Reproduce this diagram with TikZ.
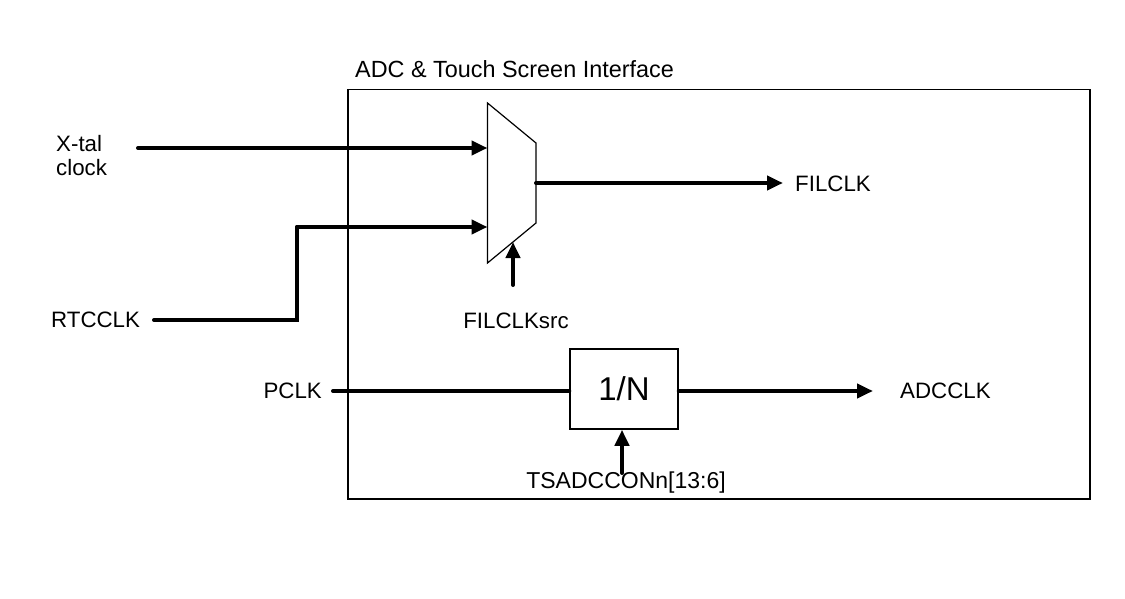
\documentclass[tikz,border=0pt]{standalone}
\usepackage{fontspec}
\setmainfont{Liberation Sans}
\usetikzlibrary{arrows.meta}
\begin{document}
\begin{tikzpicture}[x=1pt,y=-1pt,
  wire/.style={line width=4pt,line cap=round},
  arr/.style={wire,-{Triangle[length=16pt,width=14pt]}},
  thin/.style={line width=1.5pt},
  lbl/.style={inner sep=0pt,font=\fontsize{22.3}{26}\selectfont},
  big/.style={inner sep=0pt,font=\fontsize{33}{38}\selectfont}]
\useasboundingbox (0,0) rectangle (1125,599);
\fill[white] (0,0) rectangle (1125,599);
% outer box
\node[thin,draw,minimum width=742pt,minimum height=409pt,inner sep=0pt,anchor=north west] (box) at (347,89) {};
\node[lbl,anchor=west,font=\fontsize{23.4}{27}\selectfont] (title) at (355,69) {ADC \& Touch Screen Interface};
% mux
\coordinate (m1) at (487.5,103);
\coordinate (m2) at (536,143);
\coordinate (m3) at (536,223);
\coordinate (m4) at (487.5,263);
\draw[thin,line width=1.2pt,fill=white] (m1) -- (m2) -- (m3) -- (m4) -- cycle;
\coordinate (in1) at (487.5,148);
\coordinate (in2) at (487.5,227);
\coordinate (out) at (536,183);
\coordinate (sel) at (513,242);
% labels
\node[lbl,anchor=west,align=left] (xtal) at (56,156) {X-tal\\[-2pt]clock};
\node[lbl,anchor=west] (rtc) at (51,320) {RTCCLK};
\node[lbl,anchor=east] (pclk) at (322,391) {PCLK};
\node[lbl,anchor=west] (filclk) at (795,184) {FILCLK};
\node[lbl,anchor=west] (adcclk) at (900,391) {ADCCLK};
\node[lbl] (filsrc) at (516,321) {FILCLKsrc};
\node[lbl,font=\fontsize{23}{27}\selectfont] (tsadc) at (626,483) {TSADCCONn[13:6]};
% divider
\node[thin,draw,fill=white,minimum width=108pt,minimum height=80pt,inner sep=0pt] (div) at (624,389) {};
\node[big] at (div.center) {1/N};
% free-end coordinates
\coordinate (xs) at (138,148);
\coordinate (rs) at (154,320);
\coordinate (rc) at (297,320);
\coordinate (rt) at (297,227);
\coordinate (fe) at (783,183);
\coordinate (ss) at (513,285);
\coordinate (ps) at (333,391);
\coordinate (ae) at (873,391);
\coordinate (ts) at (622,473);
% wires
\draw[arr] (xs) -- (in1);
\draw[wire] (rs) -- (rc) -- (rt);
\draw[arr] (rt) -- (in2);
\draw[arr] (out) -- (fe);
\draw[arr] (ss) -- (sel);
\draw[wire] (ps) -- (div.west |- ps);
\draw[arr] (div.east |- ae) -- (ae);
\draw[arr] (ts) -- (div.south -| ts);
\end{tikzpicture}
\end{document}
